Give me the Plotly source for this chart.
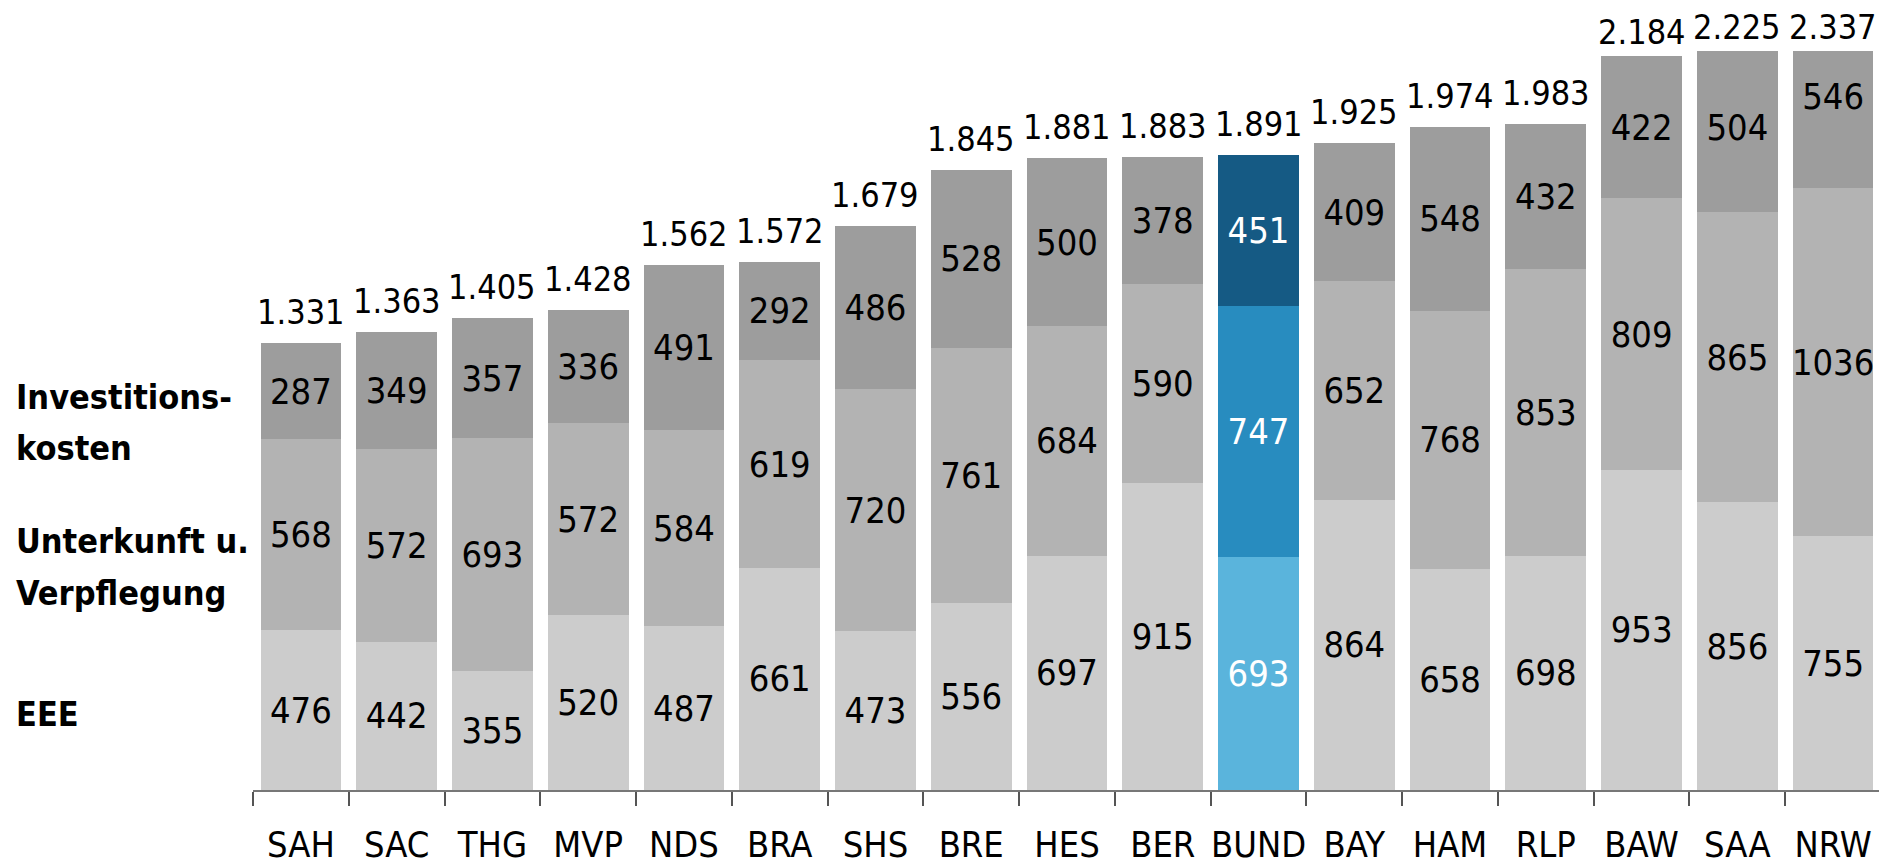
import plotly.graph_objects as go

categories = ["SAH", "SAC", "THG", "MVP", "NDS", "BRA", "SHS", "BRE", "HES", "BER",
              "BUND", "BAY", "HAM", "RLP", "BAW", "SAA", "NRW"]
eee = [476, 442, 355, 520, 487, 661, 473, 556, 697, 915, 693, 864, 658, 698, 953, 856, 755]
unterkunft = [568, 572, 693, 572, 584, 619, 720, 761, 684, 590, 747, 652, 768, 853, 809, 865, 1036]
invest = [287, 349, 357, 336, 491, 292, 486, 528, 500, 378, 451, 409, 548, 432, 422, 504, 546]
totals = [1331, 1363, 1405, 1428, 1562, 1572, 1679, 1845, 1881, 1883, 1891, 1925, 1974, 1983,
          2184, 2225, 2337]
series_names = ["EEE", "Unterkunft u. Verpflegung", "Investitionskosten"]

Y_MAX = 2200
FONT = "DejaVu Sans Condensed, Liberation Sans Narrow, sans-serif"

gray = ["#cccccc", "#b3b3b3", "#9d9d9d"]
blue = ["#5ab4dc", "#288cbf", "#155a84"]

def colors(i):
    return [blue[i] if c == "BUND" else gray[i] for c in categories]

def txtcolors():
    return ["white" if c == "BUND" else "black" for c in categories]

fig = go.Figure()
for i, vals in enumerate([eee, unterkunft, invest]):
    fig.add_trace(go.Bar(
        x=categories, y=vals, name=series_names[i],
        marker=dict(color=colors(i), line=dict(width=0)),
        text=[str(v) for v in vals],
        textposition="inside", insidetextanchor="middle", textangle=0,
        constraintext="none",
        textfont=dict(family=FONT, size=36, color=txtcolors()),
        hoverinfo="skip",
    ))

for c, t in zip(categories, totals):
    fig.add_annotation(
        x=c, y=min(t, Y_MAX), xref="x", yref="y",
        text=f"{t:,}".replace(",", "."), showarrow=False,
        yanchor="bottom", xanchor="center", yshift=10 if t <= 2100 else 3,
        borderpad=0,
        font=dict(family=FONT, size=34, color="black"),
    )

# page body has an 8px margin: compensate so the plot area sits at x 253..1881, y 51..790
OFF = 8
PLOT_TOP, PLOT_BOTTOM = 51, 790
W, H = 1887 - OFF, 867 - OFF
left_labels = [("Investitions-", 397), ("kosten", 448), ("Unterkunft u.", 541),
               ("Verpflegung", 593), ("EEE", 714)]
for txt, ypx in left_labels:
    fig.add_annotation(
        text=f"<b>{txt}</b>", xref="paper", yref="paper",
        x=-239 / 1628, y=(PLOT_BOTTOM - ypx) / (PLOT_BOTTOM - PLOT_TOP),
        xanchor="left", yanchor="middle",
        align="left", showarrow=False,
        font=dict(family=FONT, size=34, color="black"),
    )

fig.update_layout(
    barmode="stack", bargap=0.157,
    width=W, height=H,
    margin=dict(l=253 - OFF, r=6, t=PLOT_TOP - OFF, b=867 - PLOT_BOTTOM, autoexpand=False),
    plot_bgcolor="white", paper_bgcolor="white",
    showlegend=False,
    font=dict(family=FONT, size=34, color="black"),
    xaxis=dict(
        type="category", tickson="boundaries", ticks="outside", ticklen=14,
        tickcolor="#555555", tickwidth=1.5, showline=True, linecolor="#777777",
        linewidth=1.5, showgrid=False, tickangle=0, automargin=False,
        tickfont=dict(family=FONT, size=36, color="black"),
        ticklabelstandoff=22,
    ),
    yaxis=dict(range=[0, Y_MAX], visible=False, showgrid=False, automargin=False),
)

fig.write_html("out.html")
